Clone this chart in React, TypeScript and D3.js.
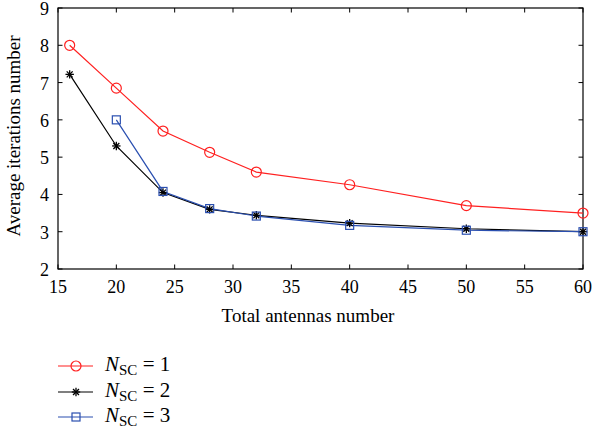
import React from "react";
import * as d3 from "d3";

const antennasRed = [16, 20, 24, 28, 32, 40, 50, 60];
const iterRed = [8.0, 6.85, 5.7, 5.13, 4.6, 4.26, 3.7, 3.5];
const antennasBlack = [16, 20, 24, 28, 32, 40, 50, 60];
const iterBlack = [7.22, 5.3, 4.05, 3.6, 3.44, 3.23, 3.08, 3.0];
const antennasBlue = [20, 24, 28, 32, 40, 50, 60];
const iterBlue = [6.0, 4.08, 3.62, 3.42, 3.17, 3.04, 3.0];
const xTicks = [15, 20, 25, 30, 35, 40, 45, 50, 55, 60];
const yTicks = [2, 3, 4, 5, 6, 7, 8, 9];
const legendLabels = ["1", "2", "3"];

const W = 592, H = 436;
const L = 58, R = 583, T = 8, B = 269;
const font = "'Liberation Serif', 'Times New Roman', serif";

export default function App() {
  const x = d3.scaleLinear().domain([15, 60]).range([L, R]);
  const y = d3.scaleLinear().domain([2, 9]).range([B, T]);
  const line = d3.line<[number, number]>().x(d => x(d[0])).y(d => y(d[1]));
  const red = antennasRed.map((a, i) => [a, iterRed[i]] as [number, number]);
  const black = antennasBlack.map((a, i) => [a, iterBlack[i]] as [number, number]);
  const blue = antennasBlue.map((a, i) => [a, iterBlue[i]] as [number, number]);
  const RED = "#ff2020", BLACK = "#000", BLUE = "#2a4fb0";

  const circle = (cx: number, cy: number, k: string) => (
    <circle key={k} cx={cx} cy={cy} r={5} fill="none" stroke={RED} strokeWidth={1.2} />
  );
  const star = (cx: number, cy: number, k: string) => {
    const s = 4.2;
    const d = s * 0.7071;
    return (
      <g key={k} stroke={BLACK} strokeWidth={1.3}>
        <line x1={cx - s} y1={cy} x2={cx + s} y2={cy} />
        <line x1={cx} y1={cy - s} x2={cx} y2={cy + s} />
        <line x1={cx - d} y1={cy - d} x2={cx + d} y2={cy + d} />
        <line x1={cx - d} y1={cy + d} x2={cx + d} y2={cy - d} />
      </g>
    );
  };
  const square = (cx: number, cy: number, k: string) => (
    <rect key={k} x={cx - 4} y={cy - 4} width={8} height={8} fill="none" stroke={BLUE} strokeWidth={1.2} />
  );

  const legendY = [366, 392, 417];
  const markers = [circle, star, square];
  const colors = [RED, BLACK, BLUE];

  return (
    <svg width={W} height={H} style={{ position: "absolute", left: 0, top: 0, background: "#fff" }}>
      <rect x={0} y={0} width={W} height={H} fill="#fff" />
      {xTicks.map(t => (
        <g key={"xt" + t}>
          <line x1={x(t)} x2={x(t)} y1={B} y2={B - 4.5} stroke="#000" />
          <line x1={x(t)} x2={x(t)} y1={T} y2={T + 4.5} stroke="#000" />
          <text x={x(t)} y={293} fontSize={18} fontFamily={font} textAnchor="middle">{t}</text>
        </g>
      ))}
      {yTicks.map(t => (
        <g key={"yt" + t}>
          <line x1={L} x2={L + 4.5} y1={y(t)} y2={y(t)} stroke="#000" />
          <line x1={R} x2={R - 4.5} y1={y(t)} y2={y(t)} stroke="#000" />
          <text x={L - 9} y={y(t) + 7} fontSize={18} fontFamily={font} textAnchor="end">{t}</text>
        </g>
      ))}
      <rect x={L} y={T} width={R - L} height={B - T} fill="none" stroke="#000" strokeWidth={1.2} />
      <text x={308} y={322} fontSize={19} fontFamily={font} textAnchor="middle">Total antennas number</text>
      <text transform={`translate(20,136) rotate(-90)`} fontSize={19} fontFamily={font} textAnchor="middle">Average iterations number</text>

      <path d={line(black) || ""} fill="none" stroke={BLACK} strokeWidth={1.2} />
      <path d={line(blue) || ""} fill="none" stroke={BLUE} strokeWidth={1.2} />
      <path d={line(red) || ""} fill="none" stroke={RED} strokeWidth={1.2} />
      {black.map((p, i) => star(x(p[0]), y(p[1]), "b" + i))}
      {blue.map((p, i) => square(x(p[0]), y(p[1]), "s" + i))}
      {red.map((p, i) => circle(x(p[0]), y(p[1]), "r" + i))}

      {legendLabels.map((lab, i) => (
        <g key={"lg" + i}>
          <line x1={58} x2={93} y1={legendY[i]} y2={legendY[i]} stroke={colors[i]} strokeWidth={1.2} />
          {markers[i](76, legendY[i], "lm" + i)}
          <text x={105} y={legendY[i] + 5} fontSize={21} fontFamily={font}>
            <tspan fontStyle="italic">N</tspan>
            <tspan fontSize={15} dy={4}>SC</tspan>
            <tspan dy={-4}>{" = " + lab}</tspan>
          </text>
        </g>
      ))}
    </svg>
  );
}
